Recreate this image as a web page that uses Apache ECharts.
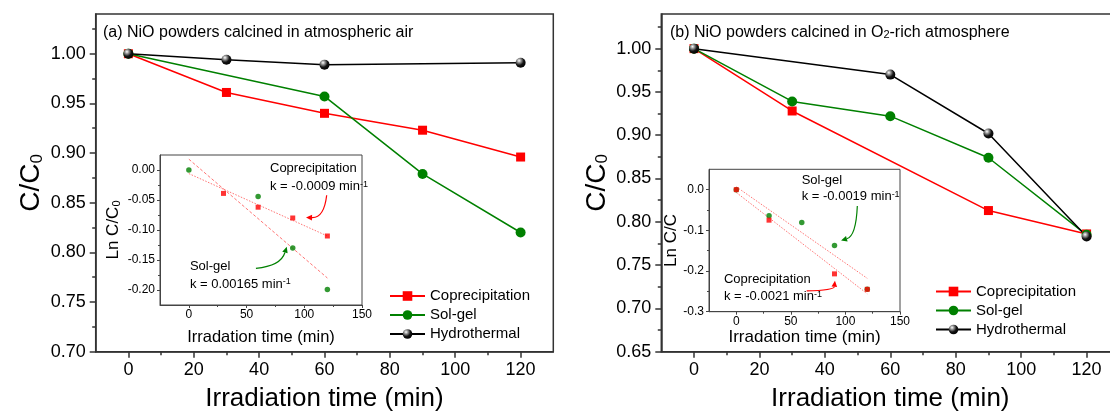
<!DOCTYPE html>
<html><head><meta charset="utf-8">
<script src="https://cdn.jsdelivr.net/npm/echarts@6/dist/echarts.min.js"></script>
<style>html,body{margin:0;padding:0;background:#fff}#c{width:1110px;height:419px}</style>
</head><body><div id="c"></div>
<script>
// ---------- data ----------
const times = [0, 30, 60, 90, 120];
// panel (a): calcined in atmospheric air
const copA = [1.000, 0.961, 0.940, 0.923, 0.896];
const solA = [1.000, null, 0.957, 0.879, 0.820];
const hydA = [1.000, 0.994, 0.989, null, 0.991];
// panel (b): calcined in O2-rich atmosphere
const copB = [1.000, 0.928, null, 0.813, 0.786];
const solB = [1.000, 0.939, 0.922, 0.874, 0.785];
const hydB = [1.000, null, 0.970, 0.902, 0.783];
// insets: Ln C/C0
const lnCopA = [null, -0.039, -0.062, -0.080, -0.110];
const lnSolA = [0.000, null, -0.044, -0.130, -0.199];
const lnCopB = [0.000, -0.075, null, -0.207, -0.245];
const lnSolB = [0.000, -0.064, -0.081, -0.137, -0.245];
// linear fits (values at fitTimes)
const fitTimes = [0, 120];
const fitCopA = [-0.006, -0.110];
const fitSolA = [0.018, -0.180];
const fitSolB = [0.007, -0.218];
const fitCopB = [-0.007, -0.256];
// tick values
const mainXTicks = [0, 20, 40, 60, 80, 100, 120];
const mainXMinor = [10, 30, 50, 70, 90, 110];
const yTicksA = [0.70, 0.75, 0.80, 0.85, 0.90, 0.95, 1.00];
const yMinorA = [0.725, 0.775, 0.825, 0.875, 0.925, 0.975, 1.025];
const yTicksB = [0.65, 0.70, 0.75, 0.80, 0.85, 0.90, 0.95, 1.00];
const yMinorB = [0.675, 0.725, 0.775, 0.825, 0.875, 0.925, 0.975, 1.025];
const insetXTicks = [0, 50, 100, 150];
const insetXMinor = [25, 75, 125];
const insetYTicksA = [-0.20, -0.15, -0.10, -0.05, 0.00];
const insetYMinorA = [-0.175, -0.125, -0.075, -0.025];
const insetYTicksB = [-0.3, -0.2, -0.1, 0.0];
const insetYMinorB = [-0.25, -0.15, -0.05];
const seriesNames = ['Coprecipitation', 'Sol-gel', 'Hydrothermal'];

// ---------- helpers ----------
const FONT = '"Liberation Sans", Arial, sans-serif';
const pairs = (xs, ys) => xs.map((x, i) => [x, ys[i]]).filter(p => p[1] !== null);

function xPair(grid, min, max, major, minor, o) {
  return [{
    type: 'value', gridIndex: grid, min, max, position: 'bottom',
    axisLine: {show: true, onZero: false, lineStyle: {color: o.c, width: o.w}},
    axisTick: {show: true, customValues: major, length: o.tl, lineStyle: {color: o.c, width: o.w}},
    axisLabel: {show: true, customValues: major, fontSize: o.fs, color: '#000', fontFamily: FONT, margin: o.lm},
    splitLine: {show: false},
    name: o.name, nameLocation: 'middle', nameGap: o.ng,
    nameTextStyle: {fontSize: o.nfs, color: '#000', fontFamily: FONT}
  }, {
    type: 'value', gridIndex: grid, min, max, position: 'bottom',
    axisLine: {show: false, onZero: false},
    axisTick: {show: true, customValues: minor, length: o.mtl, lineStyle: {color: o.c, width: o.w}},
    axisLabel: {show: false}, splitLine: {show: false}
  }];
}
function yPair(grid, min, max, major, minor, o) {
  return [{
    type: 'value', gridIndex: grid, min, max, position: 'left',
    axisLine: {show: true, onZero: false, lineStyle: {color: o.c, width: o.w}},
    axisTick: {show: true, customValues: major, length: o.tl, lineStyle: {color: o.c, width: o.w}},
    axisLabel: {show: true, customValues: major, fontSize: o.fs, color: '#000', fontFamily: FONT, margin: o.lm,
      formatter: v => v.toFixed(o.dec)},
    splitLine: {show: false},
    name: o.name, nameLocation: 'middle', nameGap: o.ng, nameRotate: 90,
    nameTextStyle: {color: '#000', fontFamily: FONT, rich: o.rich}
  }, {
    type: 'value', gridIndex: grid, min, max, position: 'left',
    axisLine: {show: false, onZero: false},
    axisTick: {show: true, customValues: minor, length: o.mtl, lineStyle: {color: o.c, width: o.w}},
    axisLabel: {show: false}, splitLine: {show: false}
  }];
}
const mainX = {c: '#333', w: 1.5, tl: 6, mtl: 3.5, fs: 18, lm: 9, name: 'Irradiation time (min)', ng: 34, nfs: 26};
const insetXa = {c: '#444', w: 1, tl: 3, mtl: 2, fs: 12, lm: 4, name: 'Irradation time (min)', ng: 24, nfs: 16.5};
const insetXb = {c: '#444', w: 1, tl: 3, mtl: 2, fs: 12, lm: 4, name: 'Irradation time (min)', ng: 17, nfs: 17};
const richMainY = {
  m: {fontSize: 28, lineHeight: 28, verticalAlign: 'top', fontFamily: FONT, color: '#000'},
  s: {fontSize: 17, lineHeight: 8, verticalAlign: 'bottom', fontFamily: FONT, color: '#000'}
};
const richInsetY = {
  m: {fontSize: 17, lineHeight: 17, verticalAlign: 'top', fontFamily: FONT, color: '#000'},
  s: {fontSize: 11, lineHeight: 7, verticalAlign: 'bottom', fontFamily: FONT, color: '#000'}
};
const mainYa = {c: '#333', w: 1.5, tl: 6, mtl: 3.5, fs: 18, lm: 10, dec: 2, name: '{m|C/C}{s|0}', ng: 50, rich: richMainY};
const mainYb = Object.assign({}, mainYa);
const insetYa = {c: '#444', w: 1, tl: 3, mtl: 2, fs: 12, lm: 5, dec: 2, name: '{m|Ln C/C}{s|0}', ng: 38, rich: richInsetY};
const insetYb = {c: '#444', w: 1, tl: 3, mtl: 2, fs: 12, lm: 5, dec: 1, name: '{m|Ln C/C}', ng: 26, rich: richInsetY};

const xAxis = [].concat(
  xPair(0, -10, 130, mainXTicks, mainXMinor, mainX),
  xPair(1, -25, 150, insetXTicks, insetXMinor, insetXa),
  xPair(2, -10, 130, mainXTicks, mainXMinor, mainX),
  xPair(3, -25, 150, insetXTicks, insetXMinor, insetXb)
);
const yAxis = [].concat(
  yPair(0, 0.70, 1.04, yTicksA, yMinorA, mainYa),
  yPair(1, -0.225, 0.025, insetYTicksA, insetYMinorA, insetYa),
  yPair(2, 0.65, 1.04, yTicksB, yMinorB, mainYb),
  yPair(3, -0.30, 0.05, insetYTicksB, insetYMinorB, insetYb)
);

const RED = '#ff0000', GREEN = '#008000';
const sphere = {type: 'radial', x: 0.35, y: 0.3, r: 0.75, colorStops: [
  {offset: 0, color: '#ffffff'}, {offset: 0.25, color: '#9a9a9a'}, {offset: 0.6, color: '#151515'}, {offset: 1, color: '#000'}]};

function mainSeries(ax, cop, sol, hyd) {
  const base = {type: 'line', xAxisIndex: ax, yAxisIndex: ax, z: 3, emphasis: {disabled: true}};
  return [
    Object.assign({}, base, {name: seriesNames[0], data: pairs(times, cop), symbol: 'rect', symbolSize: 9,
      itemStyle: {color: RED}, lineStyle: {color: RED, width: 1.5}}),
    Object.assign({}, base, {name: seriesNames[1], data: pairs(times, sol), symbol: 'circle', symbolSize: 10,
      itemStyle: {color: GREEN}, lineStyle: {color: GREEN, width: 1.5}}),
    Object.assign({}, base, {name: seriesNames[2], data: pairs(times, hyd), symbol: 'circle', symbolSize: 10,
      itemStyle: {color: sphere}, lineStyle: {color: '#000', width: 1.5}})
  ];
}
function fitSeries(ax, vals, dash) {
  return {type: 'line', name: 'fit', xAxisIndex: ax, yAxisIndex: ax, data: pairs(fitTimes, vals), symbol: 'none',
    lineStyle: {color: 'rgba(255,70,70,0.75)', width: 1, type: dash}, emphasis: {disabled: true}, z: 2};
}
function dots(ax, vals, isCop) {
  return {type: 'scatter', name: isCop ? 'lnCop' : 'lnSol', xAxisIndex: ax, yAxisIndex: ax, data: pairs(times, vals),
    symbol: isCop ? 'rect' : 'circle', symbolSize: isCop ? 5 : 5.5,
    itemStyle: {color: isCop ? RED : GREEN}, emphasis: {disabled: true}, z: 4};
}

const series = [].concat(
  mainSeries(0, copA, solA, hydA),
  [fitSeries(2, fitCopA, [1.5, 1.5]), fitSeries(2, fitSolA, [3, 2]), dots(2, lnCopA, true), dots(2, lnSolA, false)],
  mainSeries(4, copB, solB, hydB),
  [fitSeries(6, fitSolB, [1.5, 1.5]), fitSeries(6, fitCopB, [1.5, 1.5]), dots(6, lnSolB, false), dots(6, lnCopB, true)]
);
const SI_INSET_A = 5, SI_INSET_B = 12;

const legendBase = {data: seriesNames, orient: 'vertical', itemWidth: 35, itemHeight: 12, itemGap: 4, padding: 0,
  selectedMode: false, textStyle: {fontSize: 15, color: '#000', fontFamily: FONT}};

const option = {
  animation: false,
  backgroundColor: '#fff',
  grid: [
    {left: 95.7, top: 14, width: 457.6, height: 337.7, show: true, borderColor: '#333', borderWidth: 1.5, backgroundColor: 'transparent', outerBoundsMode: 'none'},
    {left: 160, top: 155, width: 202, height: 150, show: true, borderColor: '#444', borderWidth: 1, backgroundColor: 'transparent', outerBoundsMode: 'none'},
    {left: 661.3, top: 14, width: 458, height: 337.7, show: true, borderColor: '#333', borderWidth: 1.5, backgroundColor: 'transparent', outerBoundsMode: 'none'},
    {left: 709, top: 169.3, width: 191, height: 142.4, show: true, borderColor: '#444', borderWidth: 1, backgroundColor: 'transparent', outerBoundsMode: 'none'}
  ],
  xAxis, yAxis, series,
  legend: [
    Object.assign({}, legendBase, {left: 389, top: 288.5}),
    Object.assign({}, legendBase, {left: 935, top: 284})
  ]
};

const chart = echarts.init(document.getElementById('c'), null, {renderer: 'canvas'});
chart.setOption(option);

// ---------- annotations ----------
const px = (si, p) => chart.convertToPixel({seriesIndex: si}, p);
const richK = {
  n: {fontSize: 13, lineHeight: 13, verticalAlign: 'bottom', fontFamily: FONT, color: '#000'},
  p: {fontSize: 9, lineHeight: 3, verticalAlign: 'top', fontFamily: FONT, color: '#000'}
};
function label(si, pos, text) {
  const P = px(si, pos);
  return {type: 'text', x: P[0], y: P[1], silent: true, z: 10,
    style: {text, fontSize: 13, fontFamily: FONT, fill: '#000', align: 'left', verticalAlign: 'middle', rich: richK}};
}
function arrow(si, s, c, e, color) {
  const P0 = px(si, s), C = px(si, c), P1 = px(si, e);
  const dx = P1[0] - C[0], dy = P1[1] - C[1], L = Math.hypot(dx, dy) || 1;
  const ux = dx / L, uy = dy / L, len = 6, hw = 2.8;
  const b = [P1[0] - ux * len, P1[1] - uy * len];
  return [
    {type: 'bezierCurve', silent: true, z: 10, shape: {x1: P0[0], y1: P0[1], x2: b[0], y2: b[1], cpx1: C[0], cpy1: C[1]},
      style: {stroke: color, lineWidth: 1.2, fill: null}},
    {type: 'polygon', silent: true, z: 10, shape: {points: [P1, [b[0] - uy * hw, b[1] + ux * hw], [b[0] + uy * hw, b[1] - ux * hw]]},
      style: {fill: color}}
  ];
}
const richTitle = {
  m: {fontSize: 16, lineHeight: 16, verticalAlign: 'top', fontFamily: FONT, color: '#000'},
  s: {fontSize: 11, lineHeight: 6, verticalAlign: 'bottom', fontFamily: FONT, color: '#000'}
};
const graphic = [
  {type: 'text', x: 103, y: 32.3, silent: true, style: {text: '{m|(a) NiO powders calcined in atmospheric air}', rich: richTitle, verticalAlign: 'middle', align: 'left'}},
  {type: 'text', x: 670, y: 32.3, silent: true, style: {text: '{m|(b) NiO powders calcined in O}{s|2}{m|-rich atmosphere}', rich: richTitle, verticalAlign: 'middle', align: 'left'}},
  label(SI_INSET_A, [70.3, 0.002], '{n|Coprecipitation}'),
  label(SI_INSET_A, [70.3, -0.028], '{n|k = -0.0009 min}{p|-1}'),
  label(SI_INSET_A, [0.9, -0.161], '{n|Sol-gel}'),
  label(SI_INSET_A, [0.9, -0.190], '{n|k = 0.00165 min}{p|-1}'),
  label(SI_INSET_B, [59.9, 0.022], '{n|Sol-gel}'),
  label(SI_INSET_B, [59.9, -0.017], '{n|k = -0.0019 min}{p|-1}'),
  label(SI_INSET_B, [-11.3, -0.220], '{n|Coprecipitation}'),
  label(SI_INSET_B, [-11.3, -0.262], '{n|k = -0.0021 min}{p|-1}')
].concat(
  arrow(SI_INSET_A, [119.4, -0.042], [117.1, -0.080], [101.5, -0.079], RED),
  arrow(SI_INSET_A, [58.1, -0.164], [79.6, -0.160], [84.8, -0.128], GREEN),
  arrow(SI_INSET_B, [110.9, -0.040], [109.7, -0.114], [96.0, -0.125], GREEN),
  arrow(SI_INSET_B, [64.5, -0.249], [89.5, -0.247], [90.4, -0.224], RED)
);
chart.setOption({graphic});
</script>
</body></html>
